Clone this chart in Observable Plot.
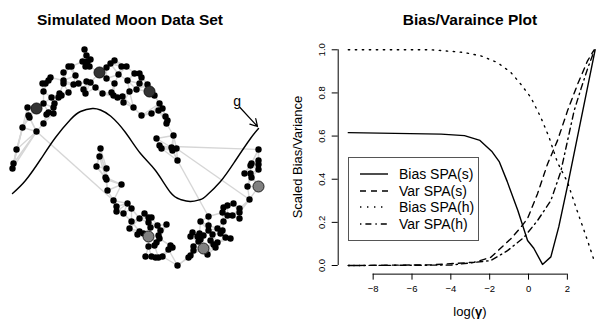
<!DOCTYPE html>
<html><head><meta charset="utf-8">
<script src="https://cdn.jsdelivr.net/npm/d3@7"></script>
<script src="https://cdn.jsdelivr.net/npm/@observablehq/plot@0.6"></script>
<style>
body{margin:0;background:#fff;font-family:"Liberation Sans",Arial,Helvetica,sans-serif;color:#000;}
#wrap{position:relative;width:596px;height:320px;overflow:hidden;background:#fff;}
#wrap > *{position:absolute;}
.title{font-weight:bold;font-size:15.5px;white-space:nowrap;transform:translate(-50%,-50%);}
.axt{font-size:13px;white-space:nowrap;}
.legend{background:#fff;border:1px solid #555;box-sizing:border-box;}
.legend .row{position:absolute;left:0;height:16px;display:flex;align-items:center;font-size:14px;white-space:nowrap;transform:translateY(-50%);}
</style></head><body><div id="wrap"></div>
<script>
// ---------- Left panel data (moon coordinates) ----------
const upperMoon = [
 [0.84,2.51],[0.86,2.45],[0.90,2.41],[0.87,2.39],[0.82,2.39],[0.89,2.34],[0.85,2.34],[0.68,2.34],[0.71,2.34],
 [0.63,2.28],[0.50,2.23],[0.48,2.20],[0.42,2.17],[0.45,2.17],[0.43,2.09],[0.63,2.20],[0.63,2.17],[0.75,2.25],
 [0.78,2.17],[0.73,2.16],[0.86,2.19],[0.90,2.18],[0.51,2.03],[0.59,2.07],[0.58,2.03],[0.61,2.05],[0.68,2.08],
 [0.83,2.11],[0.85,2.07],[0.95,2.13],[0.54,1.97],[0.53,1.93],[0.48,1.88],[0.46,1.86],[0.27,1.93],[0.43,1.97],
 [0.28,1.85],[0.29,1.83],[0.43,1.77],[0.36,1.69],[0.22,1.73],[0.16,1.51],[0.13,1.37],[0.12,1.32],[0.53,1.87],
 [1.02,2.07],[1.06,2.33],[1.10,2.37],[1.14,2.40],[1.21,2.34],[1.26,2.34],[1.18,2.26],[1.27,2.20],[1.06,2.22],
 [1.14,2.17],[1.11,2.08],[1.13,2.05],[1.17,2.03],[1.22,2.04],[1.23,1.98],[1.29,2.09],[1.36,2.11],[1.34,2.27],
 [1.39,2.27],[1.41,2.23],[1.39,2.17],[1.47,2.16],[1.54,2.05],[1.33,1.93],[1.41,1.85],[1.51,1.87],[1.59,1.97],
 [1.58,1.90],[1.62,1.92],[1.65,1.84],[1.67,1.80],[1.66,1.77],[1.73,1.65],[1.56,1.62],[1.59,1.55],[1.61,1.52],
 [1.71,1.53],[1.76,1.52],[1.72,1.50],[1.77,1.40]
];
const lowerMoon = [
 [1.00,1.52],[0.99,1.44],[0.96,1.34],[1.06,1.32],[1.05,1.23],[1.06,1.21],[1.21,1.16],[1.07,1.10],[1.13,1.00],
 [1.27,0.97],[1.31,0.92],[1.16,0.94],[1.16,0.89],[1.23,0.87],[1.31,0.79],[1.29,0.72],[1.39,0.82],[1.44,0.87],
 [1.48,0.83],[1.51,0.83],[1.39,0.69],[1.43,0.67],[1.37,0.66],[1.48,0.54],[1.45,0.44],[1.51,0.44],[1.55,0.43],
 [1.58,0.43],[1.62,0.44],[1.48,0.78],[1.50,0.73],[1.57,0.75],[1.66,0.76],[1.60,0.70],[1.58,0.65],[1.59,0.62],
 [1.56,0.58],[1.54,0.55],[1.70,0.55],[1.72,0.53],[1.68,0.51],[1.77,0.35],[1.88,0.43],[1.93,0.54],[1.98,0.59],
 [1.92,0.68],[2.00,0.79],[2.08,0.84],[1.90,0.64],[1.97,0.64],
 [2.58,1.51],[2.51,1.37],[2.50,1.35],[2.58,1.40],[2.58,1.36],[2.44,1.27],[2.50,1.27],[2.51,1.23],[2.58,1.31],
 [2.47,1.14],[2.49,1.01],[2.33,0.97],[2.27,0.95],[2.23,0.93],[2.39,0.92],[2.39,0.88],[2.39,0.82],[2.22,0.88],
 [2.27,0.85],[2.32,0.85],[2.23,0.79],[2.17,0.72],[2.08,0.75],[2.08,0.70],[2.12,0.66],[2.20,0.67],[2.25,0.63],
 [2.30,0.62],[1.99,0.67],[2.03,0.65],[2.00,0.61],[2.10,0.60],[2.13,0.56],[2.15,0.53],[2.17,0.58],[2.07,0.46],
 [1.93,0.50],[1.90,0.45],[2.22,0.70]
];
const upperCentres = [[0.36,1.92],[0.99,2.28],[1.49,2.09]];
const lowerCentres = [[1.48,0.64],[2.03,0.52],[2.58,1.14]];
const longEdges = [
 [[0.36,1.69],[1.13,1.00]],
 [[1.73,1.54],[2.58,1.51]],
 [[1.77,1.40],[2.08,0.84]],
 [[1.76,1.52],[2.49,1.01]]
];
const gCurve = [
 [0.12,1.07],[0.25,1.20],[0.40,1.41],[0.55,1.63],[0.70,1.81],[0.80,1.89],[0.92,1.92],[1.00,1.905],[1.10,1.845],
 [1.25,1.68],[1.40,1.47],[1.55,1.30],[1.70,1.08],[1.80,1.01],[1.90,0.99],[2.00,1.01],[2.05,1.04],[2.20,1.19],
 [2.35,1.40],[2.50,1.62],[2.58,1.72]
];
const gArrow = {x1:2.395, y1:1.93, x2:2.57, y2:1.74};
const gLabel = {x:2.367, y:1.99, text:"g"};

// ---------- Right panel data ----------
const seriesNames = ["Bias SPA(s)","Var SPA(s)","Bias SPA(h)","Var SPA(h)"];
const seriesDash = ["none","6,5","1.4,5.6","1.4,4,6,4"];
const biasS = [[-9.28,0.616],[-4.5,0.609],[-3.3,0.602],[-2.5,0.58],[-1.9,0.53],[-1.5,0.48],[-1.1,0.39],[-0.55,0.255],
 [-0.05,0.116],[0.27,0.08],[0.72,0.005],[1.15,0.04],[1.56,0.18],[2.01,0.37],[3.43,1.0]];
const varS = [[-9.28,0],[-5.0,0.003],[-2.8,0.015],[-1.94,0.038],[-0.91,0.124],[-0.4,0.177],[-0.05,0.218],[0.46,0.332],
 [0.98,0.471],[1.49,0.579],[2.01,0.718],[2.53,0.841],[3.04,0.949],[3.38,1.0]];
const biasH = [[-9.28,1.0],[-5.0,1.0],[-3.34,0.988],[-2.46,0.972],[-1.6,0.941],[-0.91,0.895],[-0.4,0.841],[0.12,0.779],
 [0.63,0.687],[1.06,0.594],[1.49,0.478],[2.01,0.386],[2.44,0.27],[2.95,0.139],[3.38,0.023]];
const varH = [[-9.28,0],[-4.0,0.002],[-1.94,0.023],[-1.08,0.069],[-0.23,0.131],[0.46,0.208],[1.15,0.301],[1.66,0.435],
 [2.01,0.579],[2.35,0.718],[2.7,0.819],[3.04,0.912],[3.38,0.995]];
const xTicks = [-8,-6,-4,-2,0,2];
const yTicks = [0,0.2,0.4,0.6,0.8,1.0];
const xDomain = [-9.8, 3.5];
const yDomain = [-0.04, 1.04];

const FONT = '"Liberation Sans", Arial, Helvetica, sans-serif';
const wrap = document.getElementById("wrap");

// ---------- kNN graph edges derived from the points ----------
const allPts = [...upperMoon, ...lowerMoon, ...upperCentres, ...lowerCentres];
const seen = new Set();
const edges = [];
allPts.forEach((p, i) => {
  const nn = allPts.map((q, j) => [j, Math.hypot(p[0]-q[0], p[1]-q[1])])
    .filter(d => d[0] !== i).sort((a, b) => a[1] - b[1]).slice(0, 4);
  for (const [j] of nn) {
    const key = i < j ? i + "-" + j : j + "-" + i;
    if (!seen.has(key)) { seen.add(key); edges.push([p, allPts[j]]); }
  }
});
longEdges.forEach(e => edges.push(e));

const left = Plot.plot({
  width: 280, height: 320, margin: 0,
  x: {domain: [0, 2.8], axis: null},
  y: {domain: [-0.2, 3.0], axis: null},
  style: {fontFamily: FONT, background: "transparent", color: "#000"},
  marks: [
    Plot.link(edges, {x1: d => d[0][0], y1: d => d[0][1], x2: d => d[1][0], y2: d => d[1][1], stroke: "#d6d6d6", strokeWidth: 1.4}),
    Plot.line(gCurve, {x: d => d[0], y: d => d[1], curve: "natural", stroke: "#000", strokeWidth: 1.4}),
    Plot.arrow([gArrow], {x1: "x1", y1: "y1", x2: "x2", y2: "y2", stroke: "#000", strokeWidth: 1.2, headLength: 10, headAngle: 60}),
    Plot.text([gLabel], {x: "x", y: "y", text: "text", fontSize: 14, fill: "#000"}),
    Plot.dot([...upperMoon, ...lowerMoon], {x: d => d[0], y: d => d[1], r: 3.2, fill: "#000", stroke: null}),
    Plot.dot(upperCentres, {x: d => d[0], y: d => d[1], r: 5.5, fill: "#333", stroke: "#111", strokeWidth: 1}),
    Plot.dot(lowerCentres, {x: d => d[0], y: d => d[1], r: 5.5, fill: "#808080", stroke: "#222", strokeWidth: 1})
  ]
});
left.style.left = "0px"; left.style.top = "0px";
wrap.appendChild(left);

const seriesData = [biasS, varS, biasH, varH];
const right = Plot.plot({
  width: 316, height: 320,
  marginLeft: 57.7, marginRight: 0, marginTop: 40.66, marginBottom: 46.36,
  x: {domain: xDomain},
  y: {domain: yDomain},
  style: {fontFamily: FONT, background: "transparent", color: "#000"},
  marks: [
    Plot.axisY({ticks: yTicks, tickSize: 6, tickFormat: () => "", label: null, strokeWidth: 1}),
    Plot.text(yTicks, {x: () => xDomain[0], y: d => d, text: d => d3.format(".1f")(d), rotate: -90, dx: -16, fontSize: 9.5, fill: "#000"}),
    Plot.axisX({ticks: xTicks, tickSize: 6, tickPadding: 5, fontSize: 9.5, label: null}),
    Plot.ruleX([{x: xDomain[0], y1: yTicks[0], y2: yTicks[yTicks.length-1]}], {x: "x", y1: "y1", y2: "y2", stroke: "#000", strokeWidth: 1}),
    Plot.ruleY([{y: yDomain[0], x1: xTicks[0], x2: xTicks[xTicks.length-1]}], {y: "y", x1: "x1", x2: "x2", stroke: "#000", strokeWidth: 1}),
    ...seriesData.map((s, i) => Plot.line(s, {x: d => d[0], y: d => d[1], stroke: "#000", strokeWidth: 1.4,
      strokeDasharray: seriesDash[i] === "none" ? null : seriesDash[i]}))
  ]
});
right.style.left = "280px"; right.style.top = "0px";
wrap.appendChild(right);

// ---------- Text: titles and axis titles ----------
function addDiv(cls, html, css) {
  const d = document.createElement("div");
  d.className = cls; d.innerHTML = html;
  Object.assign(d.style, css);
  wrap.appendChild(d);
  return d;
}
addDiv("title", "Simulated Moon Data Set", {left: "130px", top: "20px"});
addDiv("title", "Bias/Varaince Plot", {left: "470px", top: "20px"});
addDiv("axt", "Scaled Bias/Variance", {left: "297px", top: "157px", transform: "translate(-50%,-50%) rotate(-90deg)"});
addDiv("axt", "log(<b>γ</b>)", {left: "470px", top: "311px", transform: "translate(-50%,-50%)"});

// ---------- Legend ----------
const lg = addDiv("legend", "", {left: "348px", top: "157px", width: "131px", height: "84px"});
seriesNames.forEach((name, i) => {
  const row = document.createElement("div");
  row.className = "row";
  row.style.top = (16 + i * 16.5) + "px";
  const dash = seriesDash[i] === "none" ? "" : `stroke-dasharray="${seriesDash[i]}"`;
  row.innerHTML = `<svg width="50" height="10" style="display:block"><line x1="11" x2="39" y1="5" y2="5" stroke="#000" stroke-width="1.4" ${dash}/></svg><span>${name}</span>`;
  lg.appendChild(row);
});
</script></body></html>
